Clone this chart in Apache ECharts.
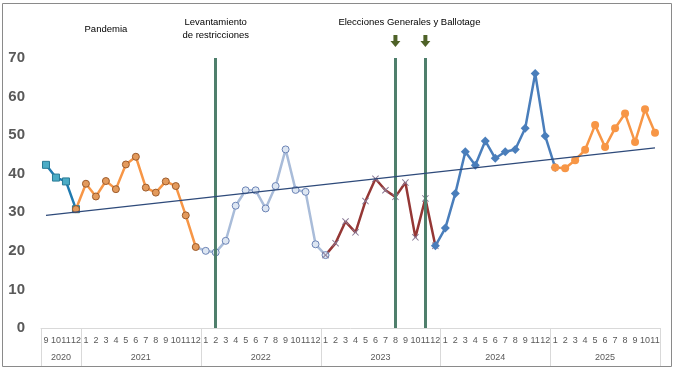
<!DOCTYPE html>
<html><head><meta charset="utf-8">
<script src="https://cdn.jsdelivr.net/npm/echarts@6/dist/echarts.min.js"></script>
<style>html,body{margin:0;padding:0;background:#fff}#c{width:674px;height:372px}</style>
</head><body><div id="c"></div>
<script>
// ---- data ----
const months = ['9','10','11','12',
  '1','2','3','4','5','6','7','8','9','10','11','12',
  '1','2','3','4','5','6','7','8','9','10','11','12',
  '1','2','3','4','5','6','7','8','9','10','11','12',
  '1','2','3','4','5','6','7','8','9','11','12',
  '1','2','3','4','5','6','7','8','9','10','11'];
const years = ['2020','2021','2022','2023','2024','2025'];
const yearCounts = [4,12,12,12,11,11];
const v2020 = [42.3, 39.0, 38.0, 30.8];
const v2021 = [37.4, 34.1, 38.1, 36.0, 42.4, 44.4, 36.4, 35.1, 38.0, 36.8, 29.2, 21.0];
const v2022 = [20.0, 19.6, 22.6, 31.7, 35.7, 35.7, 31.0, 36.8, 46.3, 35.8, 35.3, 21.7];
const v2023 = [18.9, 22.0, 27.6, 24.8, 32.9, 38.7, 35.7, 34.0, 37.7, 23.5, 33.6, 21.3];
const v2024 = [25.9, 34.9, 45.7, 42.2, 48.5, 44.0, 45.7, 46.3, 51.8, 66.0, 49.8];
const v2025 = [41.6, 41.4, 43.5, 46.2, 52.6, 46.9, 51.8, 55.6, 48.2, 56.7, 50.6];
const trendEnds = [29.2, 46.7];
const eventIdx = [17, 35, 38];
const yTicks = [0, 70, 10];

const all = [].concat(v2020, v2021, v2022, v2023, v2024, v2025);
const N = all.length;

function segment(from, to, hideFirst) {
  const d = new Array(N).fill(null);
  for (let i = from; i <= to; i++) {
    d[i] = (hideFirst && i === from) ? {value: all[i], symbol: 'none'} : all[i];
  }
  return d;
}
const starts = []; { let s = 0; yearCounts.forEach(c => { starts.push(s); s += c; }); }

const xShape = 'path://M0,1L1,0L5,4L9,0L10,1L6,5L10,9L9,10L5,6L1,10L0,9L4,5Z';

const trend = new Array(N).fill(null);
trend[0] = trendEnds[0]; trend[N - 1] = trendEnds[1];

const chart = echarts.init(document.getElementById('c'));
const baseFont = 'Liberation Sans, Arial, sans-serif';
chart.setOption({
  animation: false,
  textStyle: {fontFamily: baseFont},
  grid: {left: 41, right: 14, top: 58, bottom: 44},
  xAxis: {
    type: 'category', data: months, boundaryGap: true,
    axisLine: {lineStyle: {color: '#d9d9d9'}},
    axisTick: {show: false},
    axisLabel: {interval: 0, fontSize: 9, color: '#595959', margin: 8, fontFamily: baseFont}
  },
  yAxis: {
    type: 'value', min: yTicks[0], max: yTicks[1], interval: yTicks[2],
    splitLine: {show: false}, axisLine: {show: false}, axisTick: {show: false},
    axisLabel: {fontSize: 15, fontWeight: 'bold', color: '#595959', margin: 16, fontFamily: baseFont}
  },
  series: [
    {type: 'line', name: 'trend', data: trend, connectNulls: true, symbol: 'none',
     lineStyle: {color: '#2e4a7a', width: 1.5}, z: 5},
    {type: 'line', name: '2020', data: segment(0, 3), symbol: 'rect', symbolSize: 7,
     lineStyle: {color: '#1f7ab0', width: 2.5},
     itemStyle: {color: '#4bacc6', borderColor: '#2a7a95', borderWidth: 1}, z: 3},
    {type: 'line', name: '2021', data: segment(starts[1] - 1, starts[1] + 11), symbol: 'circle', symbolSize: 7,
     lineStyle: {color: '#f79646', width: 2.5},
     itemStyle: {color: '#e39a5c', borderColor: '#9c5a2a', borderWidth: 1}, z: 3},
    {type: 'line', name: '2022', data: segment(starts[2] - 1, starts[2] + 12, true), symbol: 'circle', symbolSize: 7,
     lineStyle: {color: '#a9bcd9', width: 2.5},
     itemStyle: {color: '#dde6f2', borderColor: '#6b83b5', borderWidth: 1}, z: 3},
    {type: 'line', name: '2023', data: segment(starts[3], starts[3] + 11), symbol: xShape, symbolSize: 7,
     lineStyle: {color: '#953735', width: 2.5},
     itemStyle: {color: '#8a7a96'}, z: 3},
    {type: 'line', name: '2024', data: segment(starts[4] - 1, starts[4] + 11), symbol: 'diamond', symbolSize: 9,
     lineStyle: {color: '#4a7ebb', width: 2.5},
     itemStyle: {color: '#4a7ebb'}, z: 3},
    {type: 'line', name: '2025', data: segment(starts[5], starts[5] + 10), symbol: 'circle', symbolSize: 8,
     lineStyle: {color: '#f79646', width: 2.5},
     itemStyle: {color: '#f79646'}, z: 3},
    {type: 'line', name: 'events', data: [], silent: true,
     markLine: {symbol: 'none', silent: true, label: {show: false},
       lineStyle: {color: '#4f7f6c', width: 3, type: 'solid'},
       data: eventIdx.map(i => ({xAxis: i}))}, z: 2}
  ]
});

function px(i) { return chart.convertToPixel({xAxisIndex: 0}, i); }
const y0 = chart.convertToPixel({yAxisIndex: 0}, 0);
const half = (px(1) - px(0)) / 2;
const g = [];
// outer frame
g.push({type: 'rect', shape: {x: 2.5, y: 3.5, width: 669, height: 363},
  style: {fill: null, stroke: '#8a8a8a', lineWidth: 1}, silent: true});
// year separators and labels
let s = 0;
const bounds = [0];
yearCounts.forEach(c => { s += c; bounds.push(s); });
bounds.forEach(b => {
  const x = Math.round(px(Math.min(b, N - 1)) + (b >= N ? half : -half)) + 0.5;
  g.push({type: 'line', shape: {x1: x, y1: y0, x2: x, y2: y0 + 38},
    style: {stroke: '#d9d9d9', lineWidth: 1}, silent: true});
});
years.forEach((yr, k) => {
  const a = bounds[k], b = bounds[k + 1] - 1;
  const cx = (px(a) + px(b)) / 2;
  g.push({type: 'text', x: cx, y: y0 + 30, style: {text: yr, fill: '#595959', fontSize: 9,
    fontFamily: baseFont, align: 'center', verticalAlign: 'middle'}, silent: true});
});
// annotations
const ann = (text, x, y) => g.push({type: 'text', x: x, y: y,
  style: {text: text, fill: '#000', fontSize: 9.5, fontFamily: baseFont, align: 'center', verticalAlign: 'middle'}, silent: true});
ann('Pandemia', px(6), 29);
ann('Levantamiento', px(eventIdx[0]), 22);
ann('de restricciones', px(eventIdx[0]), 35);
ann('Elecciones Generales y Ballotage', (px(eventIdx[1]) + px(eventIdx[2])) / 2 - 1, 22);
[eventIdx[1], eventIdx[2]].forEach(i => {
  const x = px(i);
  g.push({type: 'polygon', shape: {points: [[x - 2, 35], [x + 2, 35], [x + 2, 41], [x + 5, 41], [x, 47], [x - 5, 41], [x - 2, 41]]},
    style: {fill: '#4f6228'}, silent: true});
});
chart.setOption({graphic: g});
</script></body></html>
